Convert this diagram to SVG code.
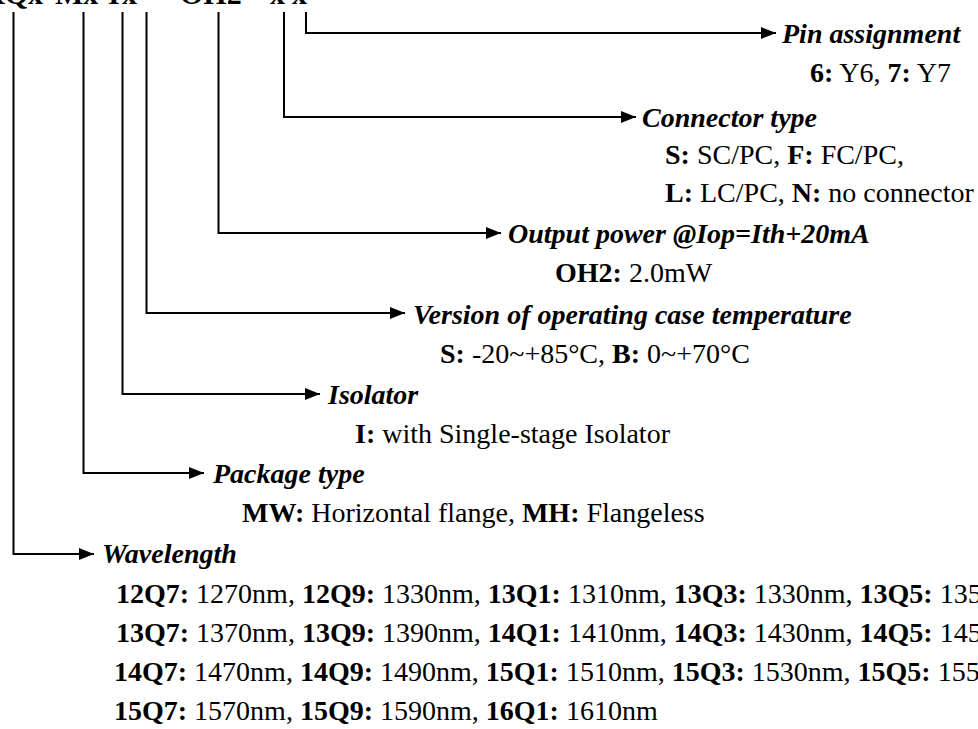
<svg xmlns="http://www.w3.org/2000/svg" width="978" height="729" viewBox="0 0 978 729">
<style>
text{font-family:"Liberation Serif","Times New Roman",serif;font-size:28px;fill:#000}
.h{font-weight:bold;font-style:italic}
.b{font-weight:bold}
.top{font-weight:bold;font-size:30px}
.c{fill:none;stroke:#000;stroke-width:2;marker-end:url(#ah)}
</style>
<defs>
<marker id="ah" markerUnits="userSpaceOnUse" markerWidth="15" markerHeight="12" refX="15" refY="6" orient="auto">
<path d="M0,0 L15,6 L0,12 z" fill="#000"/>
</marker>
</defs>
<g id="code">
<text class="top" y="4"><tspan x="-17">RQx</tspan><tspan x="55">Mx</tspan><tspan x="108">I</tspan><tspan x="122">x</tspan><tspan x="158">-</tspan><tspan x="180">OH2</tspan><tspan x="250">-</tspan><tspan x="270">x</tspan><tspan x="292">x</tspan></text>
</g>
<g id="connectors">
<path class="c" d="M306,12 V33 H776"/>
<path class="c" d="M284,12 V117 H636"/>
<path class="c" d="M218.5,12 V233 H501"/>
<path class="c" d="M146.5,12 V313 H405"/>
<path class="c" d="M122.5,12 V394 H320"/>
<path class="c" d="M83.5,12 V473 H204"/>
<path class="c" d="M13.5,12 V554 H94"/>
</g>
<g id="pin">
<text class="h" x="782" y="43">Pin assignment</text>
<text x="810" y="82"><tspan class="b">6:</tspan> Y6, <tspan class="b">7:</tspan> Y7</text>
</g>
<g id="connector">
<text class="h" x="642" y="127">Connector type</text>
<text x="665" y="164"><tspan class="b">S:</tspan> SC/PC, <tspan class="b">F:</tspan> FC/PC,</text>
<text x="665" y="202"><tspan class="b">L:</tspan> LC/PC, <tspan class="b">N:</tspan> no connector</text>
</g>
<g id="power">
<text class="h" x="508" y="243">Output power @Iop=Ith+20mA</text>
<text x="555" y="282"><tspan class="b">OH2:</tspan> 2.0mW</text>
</g>
<g id="temperature">
<text class="h" x="413" y="324">Version of operating case temperature</text>
<text x="440" y="363"><tspan class="b">S:</tspan> -20~+85°C, <tspan class="b">B:</tspan> 0~+70°C</text>
</g>
<g id="isolator">
<text class="h" x="328" y="404">Isolator</text>
<text x="355" y="443"><tspan class="b">I:</tspan> with Single-stage Isolator</text>
</g>
<g id="package">
<text class="h" x="213" y="483">Package type</text>
<text x="242" y="522"><tspan class="b">MW:</tspan> Horizontal flange, <tspan class="b">MH:</tspan> Flangeless</text>
</g>
<g id="wavelength">
<text class="h" x="102" y="563">Wavelength</text>
<text x="116" y="603"><tspan class="b">12Q7:</tspan> 1270nm, <tspan class="b">12Q9:</tspan> 1330nm, <tspan class="b">13Q1:</tspan> 1310nm, <tspan class="b">13Q3:</tspan> 1330nm, <tspan class="b">13Q5:</tspan> 1350nm,</text>
<text x="116" y="642"><tspan class="b">13Q7:</tspan> 1370nm, <tspan class="b">13Q9:</tspan> 1390nm, <tspan class="b">14Q1:</tspan> 1410nm, <tspan class="b">14Q3:</tspan> 1430nm, <tspan class="b">14Q5:</tspan> 1450nm,</text>
<text x="114" y="681"><tspan class="b">14Q7:</tspan> 1470nm, <tspan class="b">14Q9:</tspan> 1490nm, <tspan class="b">15Q1:</tspan> 1510nm, <tspan class="b">15Q3:</tspan> 1530nm, <tspan class="b">15Q5:</tspan> 1550nm,</text>
<text x="114" y="720"><tspan class="b">15Q7:</tspan> 1570nm, <tspan class="b">15Q9:</tspan> 1590nm, <tspan class="b">16Q1:</tspan> 1610nm</text>
</g>
</svg>
